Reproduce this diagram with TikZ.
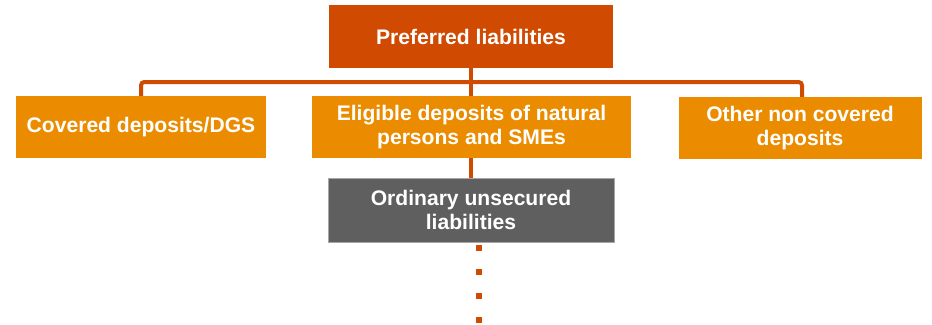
\documentclass[tikz,border=0pt]{standalone}
\usepackage{fontspec}
\setmainfont{Liberation Sans}
\usetikzlibrary{positioning, calc}
\definecolor{darkorange}{HTML}{D04A02}
\definecolor{lightorange}{HTML}{EB8C00}
\definecolor{ordgray}{HTML}{5F5F5F}
\tikzset{
	box/.style={rectangle, text=white, align=center, inner sep=0pt,
		font=\fontsize{18}{20.4}\selectfont\bfseries},
	topbox/.style={box, fill=darkorange, minimum width=8.52cm, minimum height=1.89cm},
	depbox/.style={box, fill=lightorange, minimum height=1.86cm},
	ordbox/.style={box, fill=ordgray, draw=gray!70, line width=0.6pt,
		minimum width=8.58cm, minimum height=1.92cm},
	link/.style={draw=darkorange, line width=0.12cm, rounded corners=0.1cm},
}
\begin{document}
\begin{tikzpicture}[x=0.03cm, y=-0.03cm]
	\useasboundingbox (0,0) rectangle (932,324);
	\node (pref) [topbox] at (471,36.5) {Preferred liabilities};
	\coordinate (bus) at (471,82);
	\coordinate (dots) at (479,324);
	% connectors first, boxes drawn on top
	\draw [link] (141,127) |- (bus) -| (802,127);
	\draw [link] (pref.south) -- (471,127);
	\draw [link] (471,127) -- (471,210);
	\node (cov) [depbox, minimum width=7.5cm] at (141,127) {Covered deposits/DGS};
	\node (elig) [depbox, minimum width=9.57cm] at (471.5,127)
		{Eligible deposits of natural\\persons and SMEs};
	\node (other) [depbox, minimum width=7.29cm] at (800,128)
		{Other non covered\\deposits};
	\node (ord) [ordbox] at (471,210) {Ordinary unsecured\\liabilities};
	\draw [darkorange, line width=0.18cm, dash pattern=on 0.18cm off 0.54cm, dash phase=0.63cm]
		(ord.south -| dots) -- (dots);
\end{tikzpicture}
\end{document}
